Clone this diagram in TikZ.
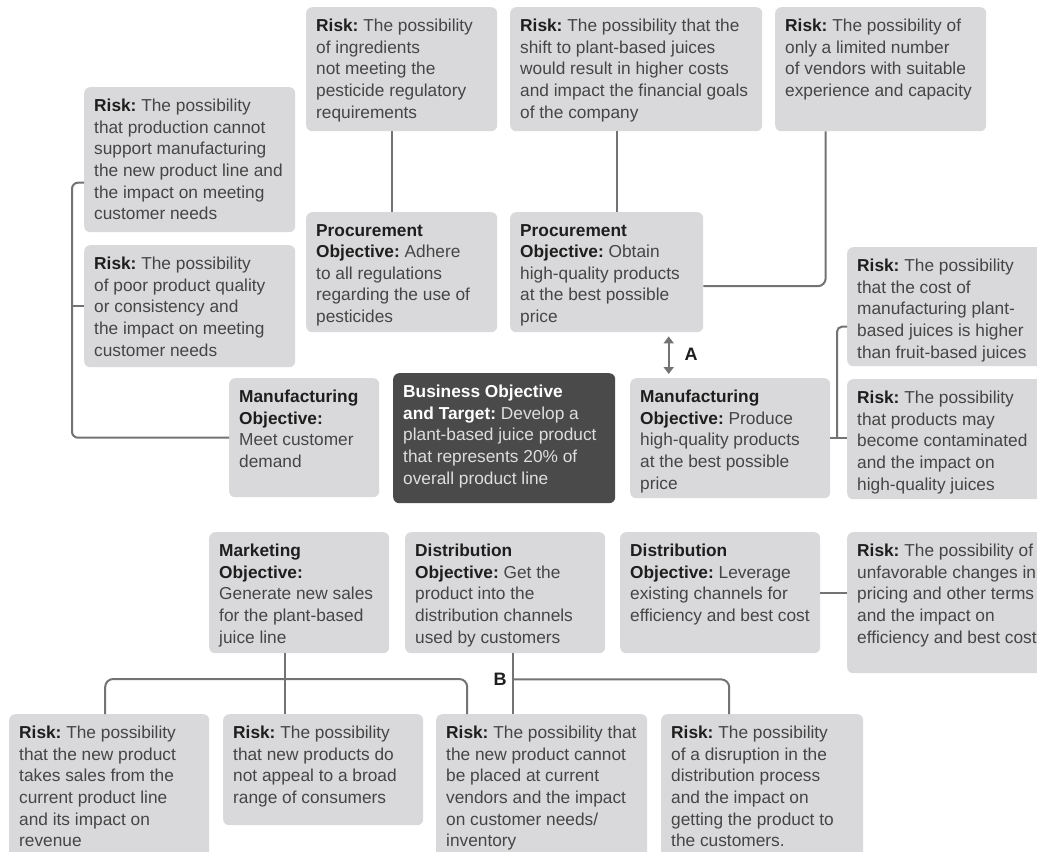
\documentclass[tikz,border=0pt]{standalone}
\usepackage{fontspec}
\setmainfont{Liberation Sans}
\usetikzlibrary{calc,arrows.meta}
\frenchspacing
\definecolor{boxgray}{HTML}{D9D9DB}
\definecolor{linegray}{HTML}{737373}
\definecolor{txtgray}{HTML}{454545}
\definecolor{boldblack}{HTML}{1E1E1E}
\definecolor{darkbox}{HTML}{4A4A4A}
\definecolor{lighttxt}{HTML}{DEDEDE}
\tikzset{
  box/.style={fill=boxgray, rounded corners=6pt, inner sep=0pt, anchor=north west},
  dbox/.style={fill=darkbox, rounded corners=6pt, inner sep=0pt, anchor=north west},
  txt/.style={inner sep=0pt, anchor=north west, align=left, text=txtgray, font=\fontsize{17.3}{21.6}\selectfont\frenchspacing},
  conn/.style={draw=linegray, line width=2pt},
  lbl/.style={font=\fontsize{18}{22}\selectfont\bfseries, text=boldblack, inner sep=0pt},
  tip/.style={{Triangle[width=10pt,length=7pt]}-{Triangle[width=10pt,length=7pt]}}
}
\newcommand\hd[1]{{\bfseries\color{boldblack}#1}}
\newcommand\rbox[7]{%
  \node[#1, minimum width={(#5-#3)*1pt}, minimum height={(#6-#4)*1pt}] (#2) at (#3,#4) {};
  \node[txt] (#2t) at ($(#2.north west)+(10,12)$) {#7};}
\begin{document}
\begin{tikzpicture}[x=1pt,y=-1pt]
\useasboundingbox (0,0) rectangle (1037,852);
\fill[white] (0,0) rectangle (1037,852);
\clip (0,0) rectangle (1037,852);

% top row
\rbox{box}{rpest}{306}{7}{497}{131}{\hd{Risk:} The possibility\\of ingredients\\not meeting the\\pesticide regulatory\\requirements}
\rbox{box}{rshift}{510}{7}{762}{131}{\hd{Risk:} The possibility that the\\shift to plant-based juices\\would result in higher costs\\and impact the financial goals\\of the company}
\rbox{box}{rvend}{775}{7}{986}{131}{\hd{Risk:} The possibility of\\only a limited number\\of vendors with suitable\\experience and capacity}

% left risks
\rbox{box}{rprod}{84}{87}{295}{232}{\hd{Risk:} The possibility\\that production cannot\\support manufacturing\\the new product line and\\the impact on meeting\\customer needs}
\rbox{box}{rqual}{84}{245}{295}{367}{\hd{Risk:} The possibility\\of poor product quality\\or consistency and\\the impact on meeting\\customer needs}

% procurement
\rbox{box}{proca}{306}{212}{497}{332}{\hd{Procurement}\\\hd{Objective:} Adhere\\to all regulations\\regarding the use of\\pesticides}
\rbox{box}{procb}{510}{212}{703}{332}{\hd{Procurement}\\\hd{Objective:} Obtain\\high-quality products\\at the best possible\\price}

% right risks
\rbox{box}{rcost}{847}{247}{1060}{366}{\hd{Risk:} The possibility\\that the cost of\\manufacturing plant-\\based juices is higher\\than fruit-based juices}
\rbox{box}{rcont}{847}{379}{1060}{499}{\hd{Risk:} The possibility\\that products may\\become contaminated\\and the impact on\\high-quality juices}

% middle row
\rbox{box}{manl}{229}{378}{379}{497}{\hd{Manufacturing}\\\hd{Objective:}\\Meet customer\\demand}
\rbox{dbox}{biz}{393}{373}{615}{503}{{\bfseries\color{white}Business Objective}\\{\bfseries\color{white}and Target:} {\color{lighttxt}Develop a}\\{\color{lighttxt}plant-based juice product}\\{\color{lighttxt}that represents 20\% of}\\{\color{lighttxt}overall product line}}
\rbox{box}{manr}{630}{378}{830}{498}{\hd{Manufacturing}\\\hd{Objective:} Produce\\high-quality products\\at the best possible\\price}

% lower objectives
\rbox{box}{mkt}{209}{532}{389}{653}{\hd{Marketing}\\\hd{Objective:}\\Generate new sales\\for the plant-based\\juice line}
\rbox{box}{dista}{405}{532}{605}{653}{\hd{Distribution}\\\hd{Objective:} Get the\\product into the\\distribution channels\\used by customers}
\rbox{box}{distb}{620}{532}{820}{653}{\hd{Distribution}\\\hd{Objective:} Leverage\\existing channels for\\efficiency and best cost}
\rbox{box}{runf}{847}{532}{1060}{673}{\hd{Risk:} The possibility of\\unfavorable changes in\\pricing and other terms\\and the impact on\\efficiency and best cost}

% bottom risks
\rbox{box}{ra}{9}{714}{209}{870}{\hd{Risk:} The possibility\\that the new product\\takes sales from the\\current product line\\and its impact on\\revenue}
\rbox{box}{rb}{223}{714}{423}{825}{\hd{Risk:} The possibility\\that new products do\\not appeal to a broad\\range of consumers}
\rbox{box}{rc}{436}{714}{647}{870}{\hd{Risk:} The possibility that\\the new product cannot\\be placed at current\\vendors and the impact\\on customer needs/\\inventory}
\rbox{box}{rd}{661}{714}{863}{870}{\hd{Risk:} The possibility\\of a disruption in the\\distribution process\\and the impact on\\getting the product to\\the customers.}

% connectors top
\draw[conn] ($(rpest.south)+(-10,0)$) -- ($(proca.north)+(-10,0)$);
\coordinate (pbn) at ($(procb.north)+(10,0)$);
\draw[conn] (pbn) -- (pbn |- rshift.south);
\coordinate (vs) at ($(rvend.south)+(-55,0)$);
\draw[conn, rounded corners=8] (vs) |- ($(procb.east)+(0,14)$);

% A arrow
\coordinate (aa) at ($(procb.south)+(62,4)$);
\coordinate (ab) at ($(aa |- manr.north)+(0,-4)$);
\draw[conn, tip] (aa) -- (ab);
\node[lbl] (labA) at (691,354) {A};

% right bracket
\coordinate (rc1) at ($(rcost.west)+(0,20)$);
\coordinate (rc2) at ($(rc1)+(-10,0)$);
\draw[conn, rounded corners=5] (rc1) -- (rc2) -- (rc2 |- manr.east);
\draw[conn] (manr.east) -- (manr.east -| rcont.west);

% left bracket
\coordinate (lb1) at ($(rprod.west)+(0,23)$);
\coordinate (lb2) at ($(lb1)+(-12,0)$);
\draw[conn, rounded corners=6] (lb1) -- (lb2) |- (manl.west);
\draw[conn] (rqual.west) -- (rqual.west -| lb2);

% distribution risk
\draw[conn] (distb.east) -- (distb.east -| runf.west);

% bottom connectors
\coordinate (mk) at ($(mkt.south)+(-14,0)$);
\draw[conn] (mk) -- (mk |- rb.north);
\coordinate (ba) at ($(ra.north)+(-4,0)$);
\coordinate (bc) at ($(rc.north)+(-74.5,0)$);
\draw[conn, rounded corners=8] (ba) -- ++(0,-35) -| (bc);
\coordinate (dd) at ($(dista.south)+(8,0)$);
\draw[conn] (dd) -- (dd |- rc.north);
\coordinate (bd) at ($(rd.north)+(-33,0)$);
\draw[conn, rounded corners=8] ($(dd)+(0,26)$) -| (bd);
\node[lbl] (labB) at (500,679) {B};
\end{tikzpicture}
\end{document}
